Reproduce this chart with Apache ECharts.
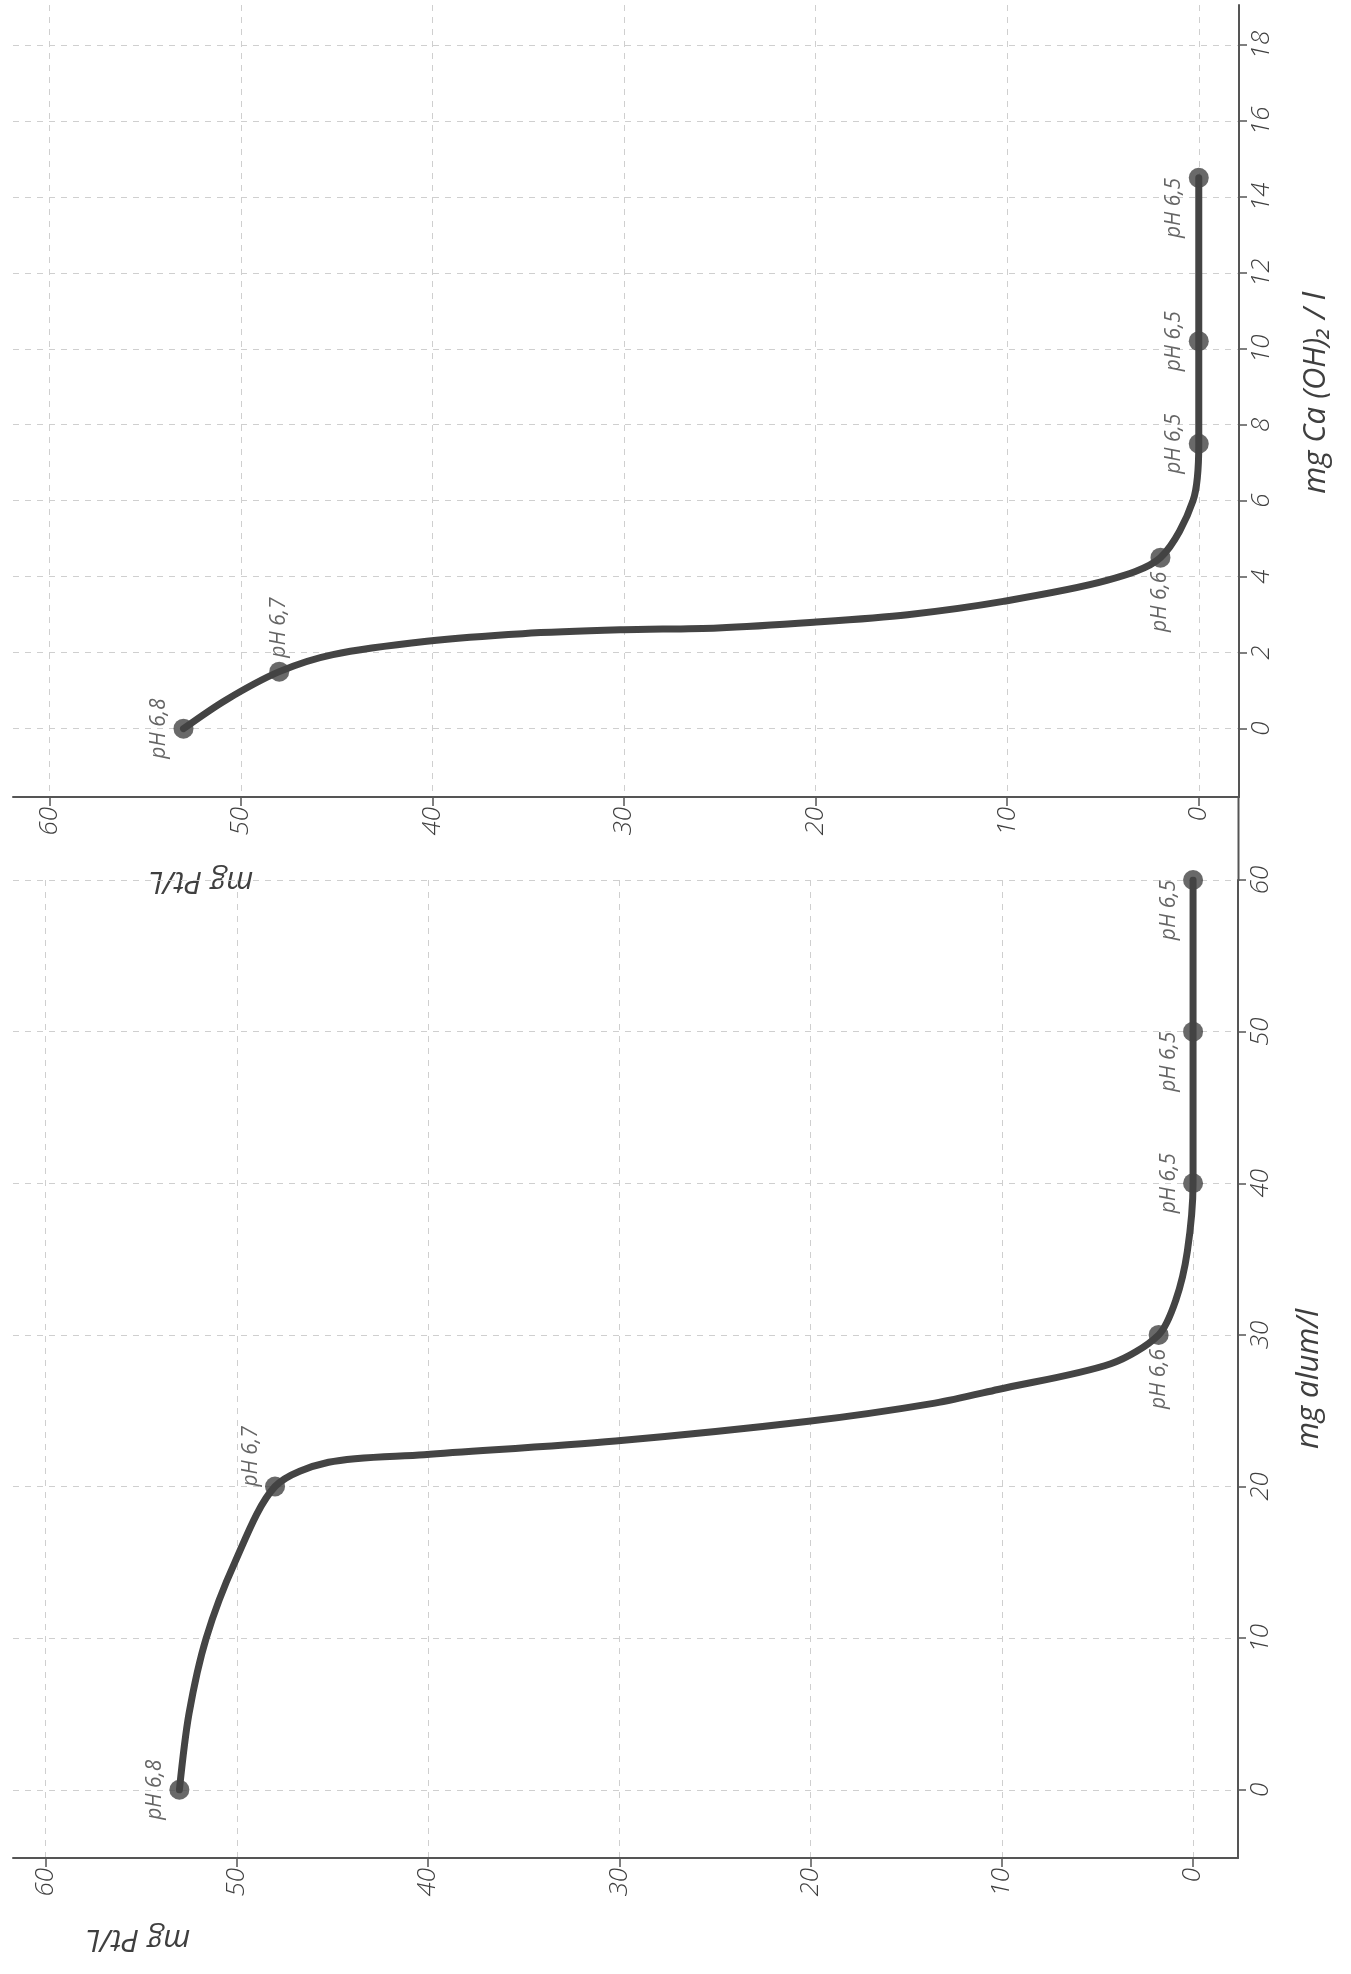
<!DOCTYPE html>
<html>
<head>
<meta charset="utf-8">
<style>
  html, body { margin: 0; padding: 0; background: #fff; }
  #chart { width: 1351px; height: 1974px; }
</style>
<script src="https://cdn.jsdelivr.net/npm/echarts@6/dist/echarts.min.js"></script>
</head>
<body>
<div id="chart"></div>
<script>
// --- Ca(OH)2 panel (top) ---
const caDose = [0, 1.5, 4.5, 7.5, 10.2, 14.5];
const caPt = [53, 48, 2.0, 0, 0, 0];
const caPH = ['pH 6,8', 'pH 6,7', 'pH 6,6', 'pH 6,5', 'pH 6,5', 'pH 6,5'];
// curve
const caCurveDose = [0, 0.75, 1.5, 1.95, 2.3, 2.5, 2.6, 2.65, 2.8, 3.0, 3.35, 3.9, 4.5, 6.0, 7.5, 10.2, 14.5];
const caCurvePt = [53, 50.8, 48, 45.2, 40.3, 35.3, 30.2, 25.1, 20.1, 15.2, 10.2, 4.8, 2.0, 0.3, 0, 0, 0];
const caTicks = [0, 2, 4, 6, 8, 10, 12, 14, 16, 18];

// --- alum panel (bottom) ---
const alumDose = [0, 20, 30, 40, 50, 60];
const alumPt = [53, 48, 1.8, 0, 0, 0];
const alumPH = ['pH 6,8', 'pH 6,7', 'pH 6,6', 'pH 6,5', 'pH 6,5', 'pH 6,5'];
const alumCurveDose = [0, 5, 10, 15, 20, 21.6, 22.1, 23.0, 24.3, 25.5, 26.4, 28.1, 30, 32.3, 35.5, 40, 50, 60];
const alumCurvePt = [53, 52.5, 51.6, 50.1, 48, 45.2, 40.2, 30.2, 20.1, 13.5, 10.2, 4.3, 1.8, 0.9, 0.3, 0, 0, 0];
const alumTicks = [0, 10, 20, 30, 40, 50, 60];

const ptTicks = [0, 10, 20, 30, 40, 50, 60];

// where each pH note sits beside its dot
const caSides = ['left', 'above', 'below', 'left', 'left', 'lowerleft'];
const alumSides = ['left', 'upperleft', 'below', 'left', 'lowerleft', 'lowerleft'];

const ink = '#444';
const axisInk = '#555';
const txt = '#3f3f3f';
const fam = "'Open Sans', 'DejaVu Sans', sans-serif";
const gridLine = { color: '#cfcfcf', type: [6, 6], width: 1 };

const sideLabel = {
  left: { position: 'left', align: 'center', verticalAlign: 'bottom' },
  upperleft: { position: 'left', align: 'left', verticalAlign: 'bottom' },
  lowerleft: { position: 'left', align: 'right', verticalAlign: 'bottom' },
  above: { position: 'top', align: 'left', verticalAlign: 'middle' },
  below: { position: 'bottom', align: 'right', verticalAlign: 'middle' }
};

function ptAxis(gi, min, max) {
  return {
    gridIndex: gi,
    type: 'value',
    inverse: true,
    position: 'bottom',
    min: min,
    max: max,
    axisLine: { show: true, onZero: false, lineStyle: { color: axisInk, width: 2 } },
    axisTick: { show: true, customValues: ptTicks, length: 9, lineStyle: { color: axisInk, width: 1.5 } },
    axisLabel: {
      customValues: ptTicks, rotate: 90, margin: 10,
      color: txt, fontSize: 26, fontFamily: fam, fontStyle: 'italic', fontWeight: 300
    },
    splitLine: { show: true, lineStyle: gridLine }
  };
}

function doseAxis(gi, min, max, ticks) {
  return {
    gridIndex: gi,
    type: 'value',
    position: 'right',
    min: min,
    max: max,
    axisLine: { show: true, onZero: false, lineStyle: { color: axisInk, width: 2 } },
    axisTick: { show: true, customValues: ticks, length: 8, lineStyle: { color: axisInk, width: 1.5 } },
    axisLabel: {
      customValues: ticks, rotate: 90, margin: 10,
      color: txt, fontSize: 26, fontFamily: fam, fontStyle: 'italic', fontWeight: 300
    },
    splitLine: { show: true, lineStyle: gridLine }
  };
}

function curve(gi, dose, pt) {
  return {
    type: 'line',
    xAxisIndex: gi,
    yAxisIndex: gi,
    data: dose.map((d, i) => [pt[i], d]),
    smooth: 0.3,
    symbol: 'none',
    lineStyle: { color: ink, width: 7, cap: 'round' },
    z: 2
  };
}

function points(gi, dose, pt, ph, sides) {
  return {
    type: 'scatter',
    xAxisIndex: gi,
    yAxisIndex: gi,
    symbolSize: 20,
    itemStyle: { color: ink },
    z: 3,
    data: dose.map((d, i) => ({
      value: [pt[i], d],
      label: Object.assign({
        show: true,
        formatter: ph[i],
        rotate: 90,
        distance: 4,
        color: txt,
        fontSize: 21,
        fontFamily: fam,
        fontStyle: 'italic',
        fontWeight: 400
      }, sideLabel[sides[i]])
    }))
  };
}

function title(x, y, rot, text) {
  return {
    type: 'text', x: x, y: y, rotation: rot,
    style: {
      text: text, fill: txt, fontSize: 31, fontFamily: fam,
      fontStyle: 'italic', fontWeight: 400, align: 'center', verticalAlign: 'middle'
    }
  };
}

const chart = echarts.init(document.getElementById('chart'));
chart.setOption({
  backgroundColor: '#fff',
  animation: false,
  grid: [
    { left: 13, right: 112, top: 5, bottom: 1177 },
    { left: 13, right: 113, top: 880, bottom: 116 }
  ],
  xAxis: [ptAxis(0, -2.1, 61.9), ptAxis(1, -2.35, 61.7)],
  yAxis: [doseAxis(0, -1.8, 19.05, caTicks), doseAxis(1, -4.5, 60, alumTicks)],
  series: [
    curve(0, caCurveDose, caCurvePt),
    points(0, caDose, caPt, caPH, caSides),
    curve(1, alumCurveDose, alumCurvePt),
    points(1, alumDose, alumPt, alumPH, alumSides)
  ],
  graphic: [
    // right axis runs on unbroken between the two panels
    { type: 'line', shape: { x1: 1238.5, y1: 797, x2: 1238.5, y2: 881 }, style: { stroke: axisInk, lineWidth: 2 } },
    title(1316, 393, Math.PI / 2, 'mg Ca (OH)₂ / l'),
    title(1309, 1379, Math.PI / 2, 'mg alum/l'),
    title(201, 881, Math.PI, 'mg Pt/L'),
    title(138, 1939, Math.PI, 'mg Pt/L')
  ]
});
</script>
</body>
</html>
